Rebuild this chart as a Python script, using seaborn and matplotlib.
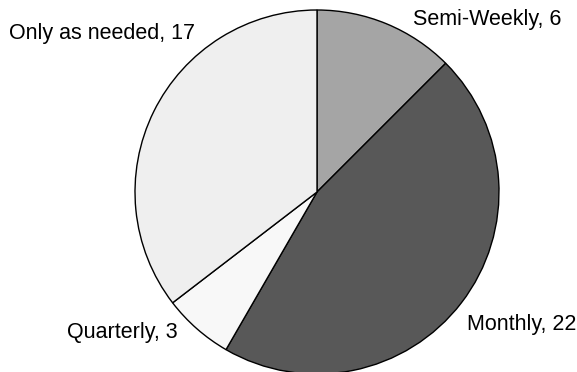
import matplotlib
matplotlib.use("Agg")
import matplotlib.pyplot as plt
import seaborn as sns

# Meeting frequency counts
categories = ["Semi-Weekly", "Monthly", "Quarterly", "Only as needed"]
counts = [6, 22, 3, 17]
colors = ["#a5a5a5", "#585858", "#f8f8f8", "#efefef"]

sns.set_theme(style="white")
plt.rcParams["font.family"] = ["Liberation Sans", "DejaVu Sans"]

W, H = 577, 372
fig = plt.figure(figsize=(W / 100, H / 100), dpi=100)
ax = fig.add_axes([0, 0, 1, 1])

ax.pie(counts, colors=colors, startangle=90, counterclock=False,
       center=(317, H - 192), radius=182, frame=True,
       wedgeprops=dict(edgecolor="black", linewidth=1.0))
ax.set_xlim(0, W)
ax.set_ylim(0, H)
ax.set_aspect("equal")
ax.axis("off")

# Label placement (left edge x, baseline y measured from top)
label_pos = {
    "Semi-Weekly": (413, 25),
    "Monthly": (467, 330),
    "Quarterly": (67, 338),
    "Only as needed": (9, 39),
}
for cat, n in zip(categories, counts):
    x, y = label_pos[cat]
    ax.text(x, H - y, f"{cat}, {n}", ha="left", va="baseline",
            fontsize=15.5, color="black")

fig.savefig("out.png", dpi=100)
